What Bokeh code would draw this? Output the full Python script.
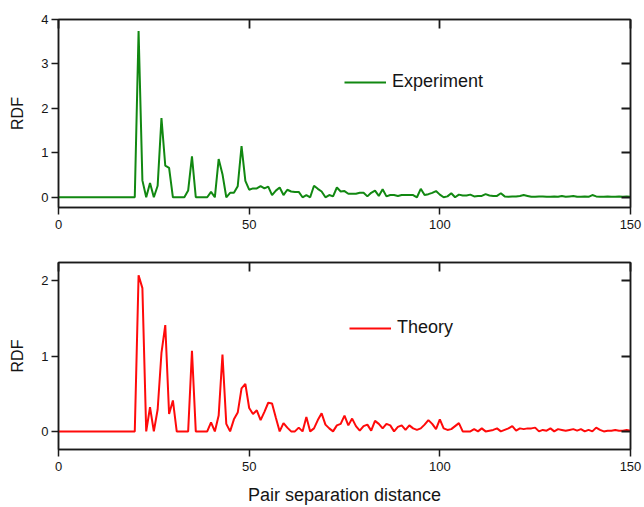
from bokeh.plotting import figure
from bokeh.layouts import column
from bokeh.models import LinearAxis, FixedTicker, Legend, LegendItem
from bokeh.embed import file_html
from bokeh.resources import INLINE

# ---- data ----
distance = list(range(0, 151))

experiment = [
    0, 0, 0, 0, 0, 0, 0, 0, 0, 0,            # 0-9
    0, 0, 0, 0, 0, 0, 0, 0, 0, 0,            # 10-19
    0, 3.74, 0.38, 0, 0.32, 0, 0.26, 1.78, 0.71, 0.66,   # 20-29
    0, 0, 0, 0, 0.15, 0.92, 0, 0, 0, 0,      # 30-39
    0.12, 0, 0.86, 0.52, 0, 0.10, 0.10, 0.25, 1.15, 0.37,  # 40-49
    0.17, 0.20, 0.20, 0.25, 0.20, 0.24, 0.05, 0.15, 0.22, 0.05,  # 50-59
    0.17, 0.13, 0.12, 0.12, 0, 0.05, 0, 0.26, 0.19, 0.13,  # 60-69
    0, 0.05, 0.02, 0.22, 0.13, 0.14, 0.08, 0.08, 0.08, 0.10,  # 70-79
    0.10, 0.02, 0.10, 0.15, 0.03, 0.18, 0.02, 0.05, 0.05, 0.03,  # 80-89
    0.05, 0.05, 0.05, 0.05, 0.0, 0.19, 0.05, 0.07, 0.10, 0.14,  # 90-99
    0.06, 0, 0.02, 0.09, 0, 0.06, 0.04, 0.04, 0.06, 0.02,  # 100-109
    0.03, 0.03, 0.07, 0.04, 0.03, 0.03, 0.09, 0.02, 0.01, 0.02,  # 110-119
    0.02, 0.03, 0.05, 0.03, 0.01, 0.01, 0.02, 0.02, 0.01, 0.01,  # 120-129
    0.02, 0.01, 0.03, 0.01, 0.02, 0.03, 0.01, 0.01, 0.02, 0.01,  # 130-139
    0.05, 0.02, 0.01, 0.01, 0.02, 0.01, 0.01, 0.02, 0.01, 0.02,  # 140-149
    0.01,                                     # 150
]

theory = [
    0, 0, 0, 0, 0, 0, 0, 0, 0, 0,            # 0-9
    0, 0, 0, 0, 0, 0, 0, 0, 0, 0,            # 10-19
    0, 2.07, 1.90, 0, 0.32, 0, 0.29, 1.04, 1.41, 0.23,  # 20-29
    0.41, 0, 0, 0, 0, 1.07, 0, 0, 0, 0,      # 30-39
    0.12, 0, 0.21, 1.02, 0.10, 0, 0.16, 0.25, 0.57, 0.63,  # 40-49
    0.31, 0.23, 0.28, 0.15, 0.26, 0.38, 0.37, 0.18, 0, 0.11,  # 50-59
    0.05, 0, 0, 0.05, 0, 0.19, 0, 0.04, 0.15, 0.24,  # 60-69
    0.09, 0.04, 0, 0.08, 0.10, 0.21, 0.08, 0.17, 0.07, 0.01,  # 70-79
    0.07, 0.09, 0.01, 0.14, 0.10, 0.04, 0.10, 0.08, 0, 0.06,  # 80-89
    0.08, 0.02, 0.08, 0.04, 0.02, 0.04, 0.09, 0.15, 0.10, 0.03,  # 90-99
    0.16, 0.04, 0.02, 0.03, 0.07, 0.11, 0, 0, 0, 0.03,  # 100-109
    0, 0.04, 0, 0.01, 0.02, 0.04, 0, 0.02, 0.04, 0.07,  # 110-119
    0.01, 0.04, 0.03, 0.04, 0.04, 0.05, 0, 0.02, 0.01, 0.04,  # 120-129
    0, 0.03, 0.02, 0.01, 0.02, 0.03, 0.01, 0.03, 0, 0.02,  # 130-139
    0, 0.05, 0.02, 0, 0.01, 0.01, 0.02, 0.01, 0.01, 0.02,  # 140-149
    0.01,                                     # 150
]

x_ticks = [0, 50, 100, 150]
top_y_ticks = [0, 1, 2, 3, 4]
bottom_y_ticks = [0, 1, 2]

FONT = "Liberation Sans"
TXT = "#151515"
AX = "#1a1a1a"
GREEN = "#118811"
RED = "#ff0a0a"


def style_main_axes(p, yticks, xlabel=None):
    xa = p.xaxis[0]
    ya = p.yaxis[0]
    xa.ticker = FixedTicker(ticks=x_ticks)
    ya.ticker = FixedTicker(ticks=yticks)
    for a in (xa, ya):
        a.minor_tick_line_color = None
        a.major_tick_in = 0
        a.major_tick_out = 7
        a.major_tick_line_width = 1.5
        a.major_tick_line_color = AX
        a.axis_line_width = 1.5
        a.axis_line_color = AX
        a.major_label_text_font = FONT
        a.major_label_text_font_size = "13px"
        a.major_label_text_color = TXT
        a.axis_label_text_font = FONT
        a.axis_label_text_font_style = "normal"
        a.axis_label_text_color = TXT
    xa.major_label_standoff = 5
    ya.major_label_standoff = 3
    ya.axis_label = "RDF"
    ya.axis_label_text_font_size = "16px"
    ya.axis_label_standoff = 12
    ya.major_label_orientation = "horizontal"
    if xlabel:
        xa.axis_label = xlabel
        xa.axis_label_text_font_size = "18px"
        xa.axis_label_standoff = 11


def mirror_axes(p, yticks):
    top = LinearAxis(ticker=FixedTicker(ticks=x_ticks))
    right = LinearAxis(ticker=FixedTicker(ticks=yticks))
    for a in (top, right):
        a.minor_tick_line_color = None
        a.major_tick_in = 9
        a.major_tick_out = 0
        a.major_tick_line_width = 1.8
        a.major_tick_line_color = AX
        a.axis_line_width = 1.5
        a.axis_line_color = AX
        a.major_label_text_font_size = "0px"
        a.major_label_text_alpha = 0
        a.major_label_standoff = 0
    p.add_layout(top, "above")
    p.add_layout(right, "right")


def make_fig(height, y_range, top_b, bottom_b):
    p = figure(width=644, height=height, x_range=(0, 150), y_range=y_range,
               output_backend="svg", toolbar_location=None,
               min_border_left=58, min_border_right=14,
               min_border_top=top_b, min_border_bottom=bottom_b)
    p.xgrid.visible = False
    p.ygrid.visible = False
    p.outline_line_color = AX
    p.outline_line_width = 1.5
    p.background_fill_color = "white"
    p.border_fill_color = "white"
    return p


# ---- top: experiment ----
p1 = make_fig(239, (-0.23, 4.0), 19, 32)
r1 = p1.line(distance, experiment, line_color=GREEN, line_width=2)
style_main_axes(p1, top_y_ticks)
mirror_axes(p1, top_y_ticks[:-1])
leg1 = Legend(items=[LegendItem(label="Experiment", renderers=[r1])],
              location=(286, 115), border_line_color=None,
              background_fill_alpha=0, padding=0, margin=0,
              glyph_width=42, glyph_height=20, label_standoff=6,
              label_text_font=FONT, label_text_font_size="18px",
              label_text_color=TXT)
p1.add_layout(leg1)

# ---- bottom: theory ----
p2 = make_fig(268, (-0.24, 2.24), 23, 57)
r2 = p2.line(distance, theory, line_color=RED, line_width=2)
style_main_axes(p2, bottom_y_ticks, xlabel="Pair separation distance")
mirror_axes(p2, bottom_y_ticks)
leg2 = Legend(items=[LegendItem(label="Theory", renderers=[r2])],
              location=(291, 111), border_line_color=None,
              background_fill_alpha=0, padding=0, margin=0,
              glyph_width=42, glyph_height=20, label_standoff=6,
              label_text_font=FONT, label_text_font_size="18px",
              label_text_color=TXT)
p2.add_layout(leg2)

layout = column(p1, p2, spacing=0)
open("out.html", "w").write(file_html(layout, INLINE))
